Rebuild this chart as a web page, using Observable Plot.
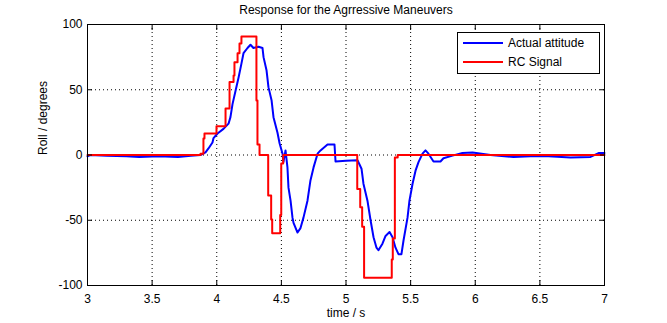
<!DOCTYPE html>
<html>
<head>
<meta charset="utf-8">
<script src="https://cdn.jsdelivr.net/npm/d3@7"></script>
<script src="https://cdn.jsdelivr.net/npm/@observablehq/plot@0.6"></script>
<style>
  html, body { margin: 0; padding: 0; background: #fff; }
  #chart { position: relative; width: 667px; height: 323px; }
  svg { font-family: "Liberation Sans", Arial, sans-serif; }
</style>
</head>
<body>
<div id="chart"></div>
<script>
// ---- data ----
const titleText = "Response for the Agrressive Maneuvers";
const xLabel = "time / s";
const yLabel = "Roll / degrees";
const seriesNames = ["Actual attitude", "RC Signal"];
const seriesColors = ["#0000ff", "#ff0000"];
const xTicks = [3, 3.5, 4, 4.5, 5, 5.5, 6, 6.5, 7];
const yTicks = [-100, -50, 0, 50, 100];

// Actual attitude (blue)
const attTime = [3, 3.02, 3.15, 3.3, 3.4, 3.55, 3.7, 3.8, 3.874, 3.913, 3.936, 3.967, 3.975, 4.006, 4.052, 4.091, 4.106, 4.122, 4.145, 4.168, 4.191, 4.207, 4.238, 4.261, 4.284, 4.323, 4.354, 4.362, 4.385, 4.400, 4.424, 4.439, 4.470, 4.486, 4.509, 4.516, 4.532, 4.547, 4.555, 4.571, 4.586, 4.594, 4.625, 4.648, 4.671, 4.702, 4.725, 4.749, 4.780, 4.803, 4.857, 4.911, 4.919, 5.0, 5.089, 5.120, 5.135, 5.166, 5.190, 5.213, 5.236, 5.251, 5.282, 5.306, 5.337, 5.360, 5.383, 5.406, 5.429, 5.445, 5.476, 5.491, 5.515, 5.538, 5.561, 5.592, 5.615, 5.638, 5.677, 5.731, 5.754, 5.824, 5.901, 5.979, 6.118, 6.296, 6.427, 6.567, 6.737, 6.892, 6.954, 7];
const attValue = [-1, 0, -0.5, -1, -1.5, -1, -1.5, -0.5, 0, 2, 5, 9.6, 13, 16.5, 20, 24, 29, 39, 49, 59, 70, 78, 82, 84.5, 82, 83, 82, 75, 65, 52, 42, 29, 17, 9, 1, -5.5, 3.5, -9.5, -25, -35, -48, -52, -59.4, -56, -48, -35, -19.5, -9.5, 1, 3.5, 8, 8, -5, -4.5, -4, -10.5, -22, -35, -50, -63, -71, -73, -68, -62, -59, -63, -71, -76, -76, -65.5, -48, -35, -22, -12, -5.5, 1, 3.5, 1, -5, -5, -2.5, -0.5, 1.5, 2, 0, -1.5, -1, -1, -2, -1.5, 1.5, 1.5];

// RC signal (red), step-after
const rcTime = [3, 3.874, 3.897, 3.905, 3.998, 4.068, 4.099, 4.130, 4.137, 4.161, 4.176, 4.191, 4.307, 4.315, 4.331, 4.398, 4.421, 4.429, 4.491, 4.499, 4.514, 5.087, 5.110, 5.125, 5.140, 5.354, 5.362, 5.378, 5.400, 7];
const rcValue = [0, 1, 12.6, 16.5, 22, 35.6, 56, 61, 71, 78, 85.4, 90.8, 41.8, 8, 0, -31, -49.5, -60, -46, -6.5, 0, -26, -40, -55, -94, -80, -64, -2, 0, 0];

const att = attTime.map((t, i) => ({t, v: attValue[i]}));
const rc = rcTime.map((t, i) => ({t, v: rcValue[i]}));

const font = "Liberation Sans, Arial, sans-serif";
const grid = {stroke: "#000", strokeOpacity: 1, strokeWidth: 1, strokeDasharray: "1,3"};

const chart = Plot.plot({
  width: 667,
  height: 323,
  marginLeft: 87,
  marginRight: 63,
  marginTop: 24,
  marginBottom: 38,
  style: {fontFamily: font, fontSize: "12px", background: "#fff", color: "#000"},
  x: {domain: [3, 7], ticks: xTicks},
  y: {domain: [-100, 100], ticks: yTicks},
  marks: [
    Plot.gridX(xTicks.slice(1, -1), grid),
    Plot.gridY(yTicks.slice(1, -1), grid),
    Plot.line(att, {x: "t", y: "v", stroke: seriesColors[0], strokeWidth: 2}),
    Plot.line(rc, {x: "t", y: "v", stroke: seriesColors[1], strokeWidth: 2, curve: "step-after"}),
    Plot.frame({stroke: "#000", strokeWidth: 1}),
    Plot.axisX(xTicks, {anchor: "bottom", tickSize: -5, tickPadding: 14, tickFormat: d => String(d), label: null, fontSize: 12}),
    Plot.axisX(xTicks, {anchor: "top", tickSize: -5, text: null, label: null}),
    Plot.axisY(yTicks, {anchor: "left", tickSize: -5, tickPadding: 10, tickFormat: d => String(d), label: null, fontSize: 12}),
    Plot.axisY(yTicks, {anchor: "right", tickSize: -5, text: null, label: null}),
    Plot.text([titleText], {frameAnchor: "top", lineAnchor: "middle", dy: -14, fontSize: 12}),
    Plot.text([xLabel], {frameAnchor: "bottom", lineAnchor: "middle", dy: 28, fontSize: 12}),
    Plot.text([yLabel], {frameAnchor: "left", dx: -44, rotate: -90, fontSize: 12})
  ]
});

document.getElementById("chart").appendChild(chart);

// legend box (top-right inside the plot)
const svg = d3.select(chart);
const lg = svg.append("g").attr("font-family", font).attr("font-size", 12).attr("text-anchor", "start");
lg.append("rect").attr("x", 457.5).attr("y", 32.5).attr("width", 142).attr("height", 41)
  .attr("fill", "#fff").attr("stroke", "#000").attr("stroke-width", 1);
seriesNames.forEach((name, i) => {
  const y = 43 + i * 19;
  lg.append("line").attr("x1", 463).attr("x2", 503).attr("y1", y).attr("y2", y)
    .attr("stroke", seriesColors[i]).attr("stroke-width", 2);
  lg.append("text").attr("x", 508).attr("y", y).attr("dy", "0.35em")
    .attr("text-anchor", "start").attr("fill", "#000").text(name);
});
</script>
</body>
</html>
